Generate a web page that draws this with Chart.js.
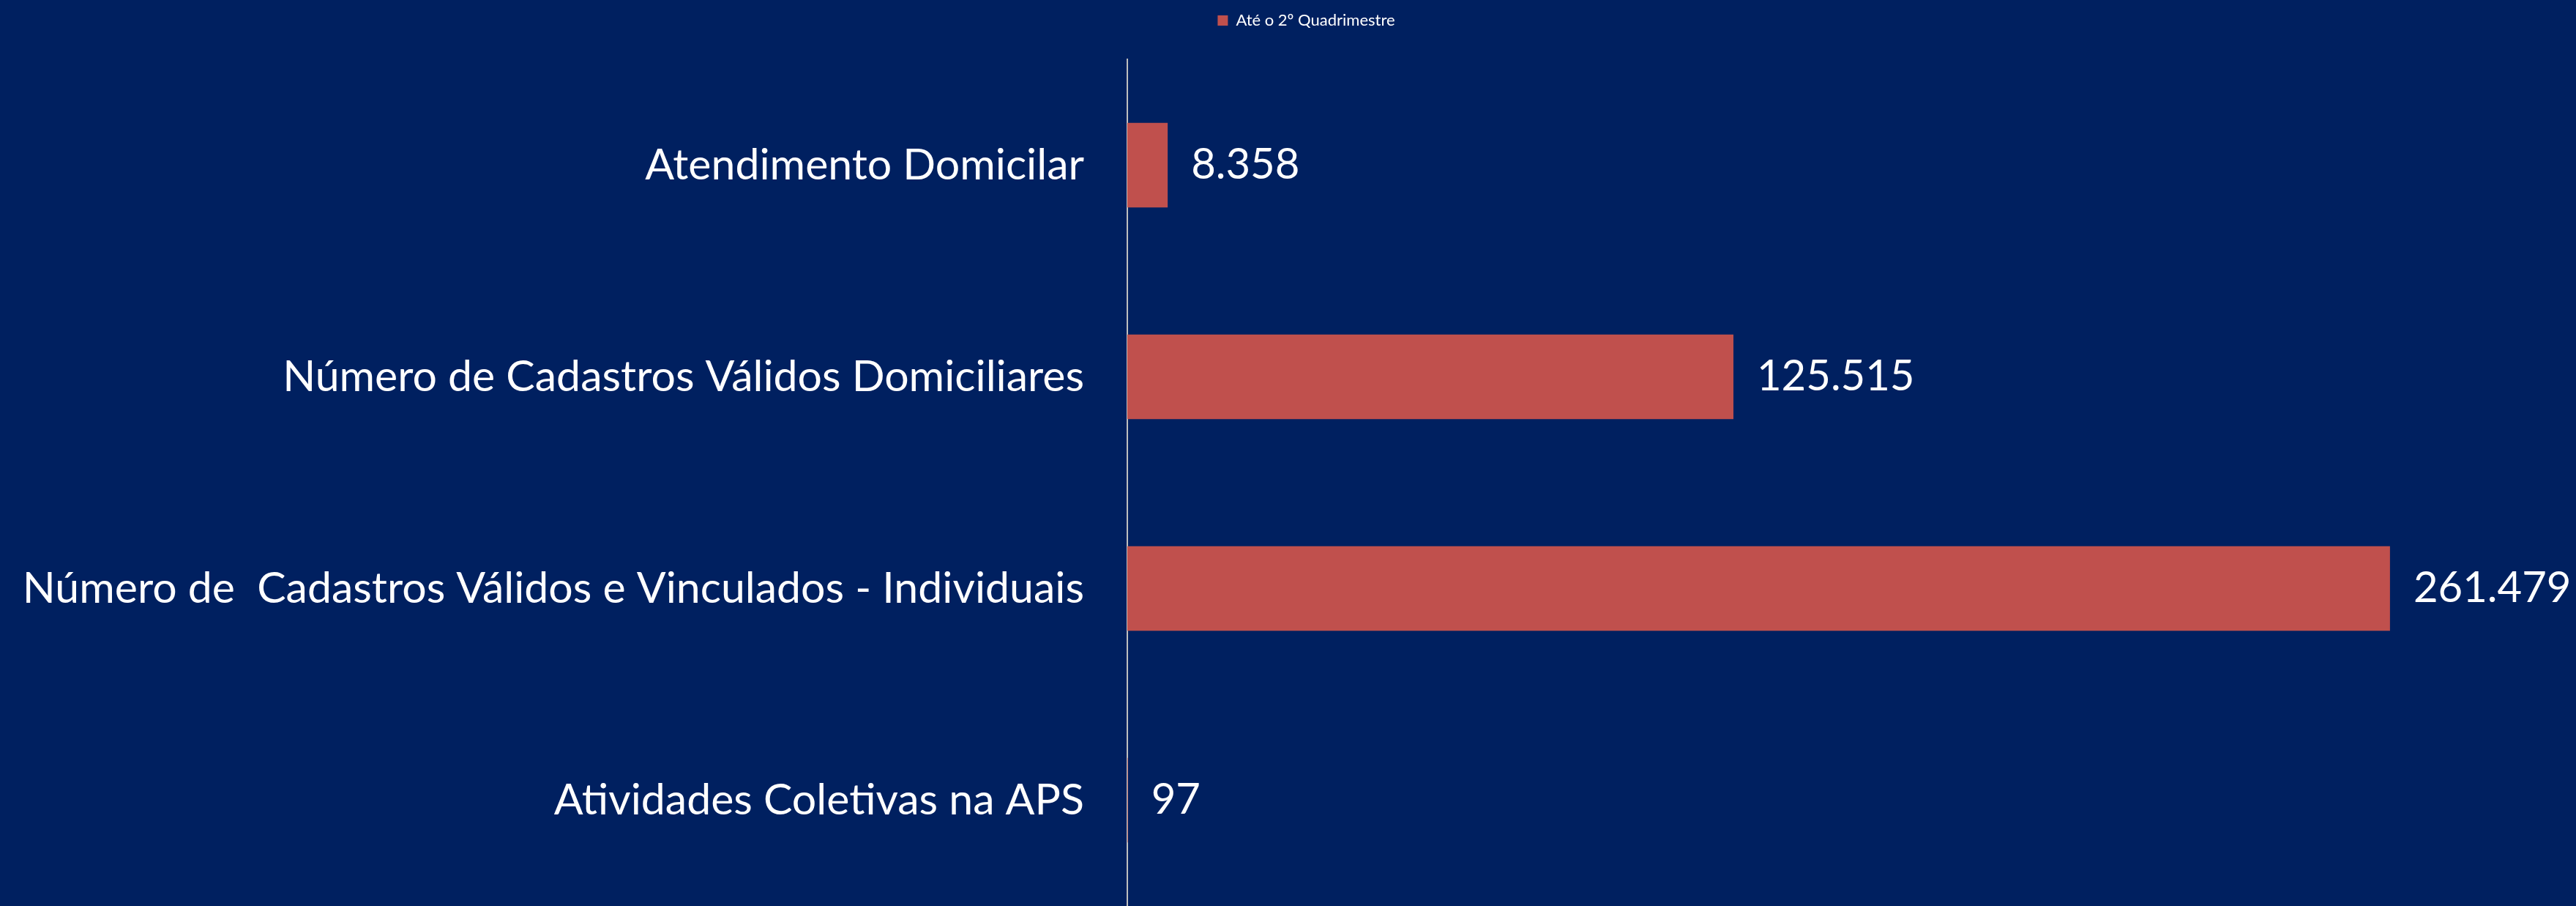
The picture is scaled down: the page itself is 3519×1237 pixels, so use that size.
<!DOCTYPE html>
<html>
<head>
<meta charset="utf-8">
<script src="https://cdn.jsdelivr.net/npm/chart.js@4.4.1/dist/chart.umd.min.js"></script>
<style>
  html, body { margin: 0; padding: 0; background: #002060; }
  #wrap { width: 3519px; height: 1237px; }
</style>
</head>
<body>
<div id="wrap"><canvas id="chart"></canvas></div>
<script>
const categories = [
  'Atendimento Domicilar',
  'Número de Cadastros Válidos Domiciliares',
  'Número de  Cadastros Válidos e Vinculados - Individuais',
  'Atividades Coletivas na APS'
];
const seriesName = 'Até o 2º Quadrimestre';
const seriesValues = [8358, 125515, 261479, 97];

const FONT = 'Lato, "Open Sans", sans-serif';

const background = {
  id: 'background',
  beforeDraw(chart) {
    const ctx = chart.ctx;
    ctx.save();
    ctx.fillStyle = '#002060';
    ctx.fillRect(0, 0, chart.width, chart.height);
    ctx.restore();
  }
};

// more room under the legend, and legend a bit right of centre like the original
const legendTweak = {
  id: 'legendTweak',
  beforeLayout(chart) {
    const lg = chart.legend;
    if (lg && !lg._patched) {
      const fit = lg.fit.bind(lg);
      lg.fit = function () { fit(); this.height += 32; };
      lg._patched = true;
    }
  },
  afterLayout(chart) {
    chart.legend.left += 25;
    chart.legend.right += 25;
    chart.legend.adjustHitBoxes();
  }
};

const valueLabels = {
  id: 'valueLabels',
  afterDatasetsDraw(chart) {
    const ctx = chart.ctx;
    ctx.save();
    ctx.fillStyle = '#ffffff';
    ctx.font = '58px ' + FONT;
    ctx.textBaseline = 'middle';
    ctx.textAlign = 'left';
    chart.getDatasetMeta(0).data.forEach((bar, i) => {
      ctx.fillText(seriesValues[i].toLocaleString('pt-BR'), bar.x + 32, bar.y);
    });
    ctx.restore();
  }
};

new Chart(document.getElementById('chart'), {
  type: 'bar',
  data: {
    labels: categories,
    datasets: [{
      label: seriesName,
      data: seriesValues,
      backgroundColor: '#C0504D',
      categoryPercentage: 0.8,
      barPercentage: 0.5
    }]
  },
  options: {
    indexAxis: 'y',
    responsive: true,
    maintainAspectRatio: false,
    animation: false,
    layout: { padding: 0 },
    plugins: {
      tooltip: { enabled: false },
      legend: {
        display: true,
        position: 'top',
        labels: {
          color: '#ffffff',
          font: { size: 22, family: FONT },
          boxWidth: 14,
          boxHeight: 14,
          padding: 17
        }
      }
    },
    scales: {
      x: {
        display: false,
        min: 0,
        max: 300000
      },
      y: {
        grid: { display: false, drawTicks: false },
        border: { display: true, color: '#BFBFBF', width: 2 },
        ticks: {
          color: '#ffffff',
          font: { size: 59, family: FONT },
          padding: 59
        },
        afterFit(axis) {
          axis.width = 1540;
          axis.paddingTop = 0;
          axis.paddingBottom = 0;
        }
      }
    }
  },
  plugins: [background, legendTweak, valueLabels]
});
</script>
</body>
</html>
